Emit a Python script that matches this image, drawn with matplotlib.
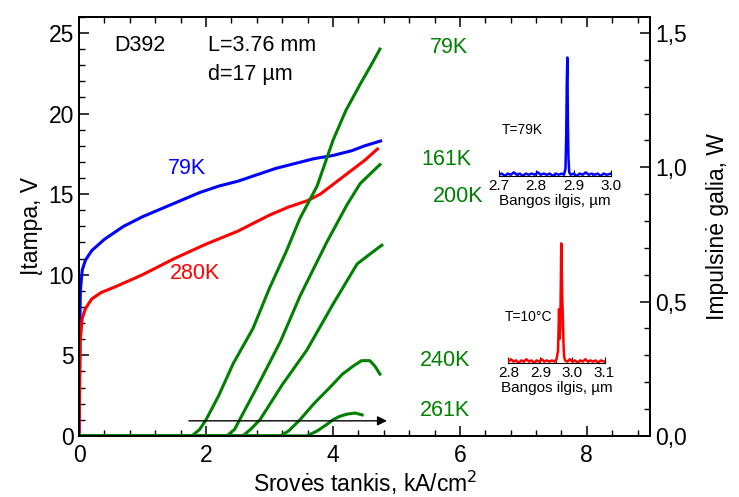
import matplotlib.pyplot as plt
import numpy as np
from matplotlib.ticker import MultipleLocator, FuncFormatter

plt.rcParams['font.family'] = ['Liberation Sans', 'DejaVu Sans']

# voltage vs current density (left axis, V)
j_79 = [0, 0.01, 0.02, 0.05, 0.1, 0.2, 0.4, 0.7, 1.0, 1.3, 1.6, 1.9, 2.2, 2.5, 2.8, 3.1, 3.4, 3.7, 4.0, 4.3, 4.5, 4.75]
u_79 = [0, 6, 9, 10.3, 10.9, 11.5, 12.2, 13.0, 13.6, 14.1, 14.6, 15.1, 15.5, 15.8, 16.2, 16.6, 16.9, 17.2, 17.4, 17.7, 18.0, 18.3]
j_280 = [0, 0.01, 0.02, 0.05, 0.1, 0.2, 0.35, 0.6, 1.0, 1.5, 2.0, 2.5, 3.0, 3.3, 3.6, 3.8, 4.0, 4.3, 4.5, 4.7]
u_280 = [0, 3, 6, 7.3, 7.9, 8.5, 8.9, 9.3, 10.0, 11.0, 11.9, 12.7, 13.7, 14.2, 14.6, 15.0, 15.6, 16.5, 17.1, 17.8]

# pulse power vs current density (right axis, W)
p_curves = {
    '79K': ([0, 1.78, 1.9, 2.0, 2.2, 2.43, 2.74, 3.0, 3.27, 3.48, 3.75, 4.0, 4.2, 4.43, 4.6, 4.74],
            [0, 0, 0.024, 0.06, 0.15, 0.27, 0.40, 0.55, 0.69, 0.81, 0.93, 1.10, 1.21, 1.31, 1.38, 1.44]),
    '161K': ([0, 2.33, 2.45, 2.53, 2.8, 3.17, 3.48, 3.9, 4.22, 4.43, 4.74],
             [0, 0, 0.024, 0.06, 0.18, 0.35, 0.52, 0.72, 0.86, 0.94, 1.01]),
    '200K': ([0, 2.58, 2.7, 2.85, 3.2, 3.59, 4.0, 4.38, 4.6, 4.77],
             [0, 0, 0.024, 0.06, 0.19, 0.32, 0.49, 0.64, 0.68, 0.71]),
    '240K': ([0, 3.17, 3.3, 3.48, 3.7, 3.95, 4.15, 4.32, 4.45, 4.58, 4.66, 4.74],
             [0, 0, 0.018, 0.06, 0.12, 0.18, 0.23, 0.26, 0.28, 0.28, 0.26, 0.23]),
    '261K': ([0, 3.59, 3.75, 3.9, 4.0, 4.1, 4.22, 4.35, 4.46],
             [0, 0, 0.018, 0.042, 0.06, 0.072, 0.081, 0.085, 0.078]),
}
label_pos = {'79K': (5.53, 1.445), '161K': (5.4, 1.03), '200K': (5.57, 0.89),
             '240K': (5.37, 0.28), '261K': (5.37, 0.095)}

# emission spectra for the insets
wl_79 = [2.700, 2.708, 2.716, 2.724, 2.732, 2.740, 2.748, 2.756, 2.764, 2.772, 2.780,
         2.788, 2.796, 2.804, 2.812, 2.820, 2.828, 2.836, 2.844, 2.852, 2.860,
         2.868, 2.874, 2.878, 2.880, 2.8815, 2.883, 2.8845, 2.886, 2.888, 2.892,
         2.900, 2.908, 2.916, 2.924, 2.932, 2.940, 2.948, 2.956, 2.964, 2.972,
         2.980, 2.988, 3.000]
sp_79 = [0.01, 0.02, 0.00, 0.02, 0.01, 0.03, 0.01, 0.02, 0.00, 0.02, 0.01,
         0.02, 0.01, 0.03, 0.01, 0.02, 0.01, 0.02, 0.00, 0.02, 0.01,
         0.02, 0.01, 0.06, 0.35, 0.78, 1.0, 0.45, 0.15, 0.03, 0.01,
         0.02, 0.00, 0.02, 0.01, 0.03, 0.01, 0.02, 0.01, 0.02, 0.00,
         0.02, 0.01, 0.02]
wl_10 = [2.800, 2.808, 2.816, 2.824, 2.832, 2.840, 2.848, 2.856, 2.864, 2.872, 2.880,
         2.888, 2.896, 2.904, 2.912, 2.920, 2.928, 2.936, 2.944, 2.950,
         2.955, 2.958, 2.960, 2.962, 2.965, 2.968, 2.970, 2.972, 2.974, 2.977,
         2.984, 2.992, 3.000, 3.008, 3.016, 3.024, 3.032, 3.040, 3.048, 3.056,
         3.064, 3.072, 3.080, 3.088, 3.100]
sp_10 = [0.01, 0.03, 0.01, 0.02, 0.00, 0.02, 0.01, 0.03, 0.01, 0.02, 0.00,
         0.02, 0.01, 0.03, 0.01, 0.02, 0.01, 0.02, 0.01, 0.03,
         0.10, 0.45, 0.20, 0.30, 1.0, 0.55, 0.38, 0.15, 0.05, 0.02,
         0.01, 0.03, 0.01, 0.02, 0.00, 0.02, 0.01, 0.03, 0.01, 0.02,
         0.01, 0.02, 0.00, 0.02, 0.01]

fig = plt.figure(figsize=(7.39, 4.97), dpi=100)
ax = fig.add_axes([0.107, 0.123, 0.773, 0.843])
ax2 = ax.twinx()

ax.plot(j_79, u_79, color='#0000ff', lw=2.2)
ax.plot(j_280, u_280, color='#ff0000', lw=2.2)
for name, (jj, pp) in p_curves.items():
    ax2.plot(jj, pp, color='#008000', lw=2.2)
    ax2.text(*label_pos[name], name, color='#008000', fontsize=15.5, ha='left', va='center')

ax2.annotate('', xy=(4.85, 0.056), xytext=(1.73, 0.056),
             arrowprops=dict(arrowstyle='-|>', color='black', lw=1.0,
                             mutation_scale=14, shrinkA=0, shrinkB=0))

ax.text(1.7, 16.6, '79K', color='#0000ff', fontsize=15.5, ha='center', va='center')
ax.text(1.83, 10.1, '280K', color='#ff0000', fontsize=15.5, ha='center', va='center')
ax.text(0.55, 24.2, 'D392', fontsize=15.5, va='center')
ax.text(2.03, 24.2, 'L=3.76 mm', fontsize=15.5, va='center')
ax.text(2.03, 22.4, 'd=17 µm', fontsize=15.5, va='center')

ax.set_xlim(0, 9)
ax.set_ylim(0, 26)
ax2.set_ylim(0, 1.56)
ax.xaxis.set_major_locator(MultipleLocator(2))
ax.xaxis.set_minor_locator(MultipleLocator(0.4))
ax.yaxis.set_major_locator(MultipleLocator(5))
ax.yaxis.set_minor_locator(MultipleLocator(1))
ax2.yaxis.set_major_locator(MultipleLocator(0.5))
ax2.yaxis.set_minor_locator(MultipleLocator(0.1))
ax2.yaxis.set_major_formatter(FuncFormatter(lambda v, _: f'{v:.1f}'.replace('.', ',')))

ax.tick_params(which='both', direction='in', top=True, labelsize=16.5)
ax.tick_params(axis='x', pad=6)
ax.tick_params(which='major', length=7, width=1.1)
ax.tick_params(which='minor', length=4, width=1.0)
ax2.tick_params(which='both', direction='in', labelsize=16.5)
ax2.tick_params(which='major', length=7, width=1.1)
ax2.tick_params(which='minor', length=4, width=1.0)
for a in (ax, ax2):
    for s in a.spines.values():
        s.set_linewidth(1.3)

ax.set_xlabel('Srovės tankis, kA/cm$^2$', fontsize=16.5, labelpad=1)
ax.set_ylabel('Įtampa, V', fontsize=16.5, labelpad=4)
ax2.set_ylabel('Impulsinė galia, W', fontsize=16.5, labelpad=14)


def spectrum_inset(rect, wl, sp, color, xlim, ticks, tag, tag_xy):
    ins = fig.add_axes(rect)
    ins.plot(wl, sp, color=color, lw=1.8)
    ins.set_xlim(*xlim)
    ins.set_ylim(0, 1.02)
    for side in ('left', 'right', 'top'):
        ins.spines[side].set_visible(False)
    ins.set_yticks([])
    ins.set_xticks(ticks)
    ins.set_xticks(np.arange(xlim[0], xlim[1] + 0.001, 0.05), minor=True)
    ins.set_xticklabels([f'{t:.1f}' for t in ticks])
    ins.tick_params(which='major', direction='in', length=4, labelsize=11, pad=2)
    ins.tick_params(which='minor', direction='in', length=2.5)
    ins.patch.set_alpha(0)
    ins.set_xlabel('Bangos ilgis, µm', fontsize=11, labelpad=1)
    fig.text(*tag_xy, tag, fontsize=10, ha='left', va='center')


spectrum_inset([0.675, 0.646, 0.152, 0.243], wl_79, sp_79, '#0000ff',
               (2.7, 3.0), [2.7, 2.8, 2.9, 3.0], 'T=79K', (502 / 739, 1 - 130 / 497))
spectrum_inset([0.688, 0.270, 0.130, 0.245], wl_10, sp_10, '#ff0000',
               (2.8, 3.1), [2.8, 2.9, 3.0, 3.1], 'T=10°C', (505 / 739, 1 - 317 / 497))

fig.savefig('out.png', dpi=100)
